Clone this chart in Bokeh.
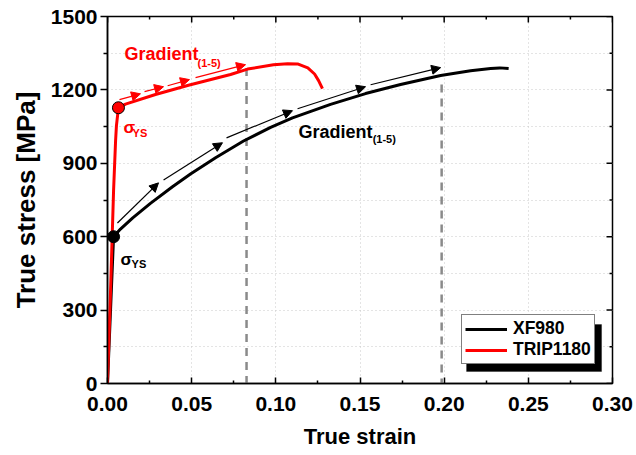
from bokeh.plotting import figure
from bokeh.models import (ColumnDataSource, Arrow, NormalHead, Legend, LegendItem,
                          BoxAnnotation, FixedTicker, PrintfTickFormatter, Range1d)
from bokeh.core.properties import value
from bokeh.embed import file_html
from bokeh.resources import INLINE

# ---------------- data ----------------
xf_strain = [0.0, 0.0036, 0.0077, 0.0150, 0.0255, 0.0386, 0.0493, 0.0642, 0.0808, 0.0969,
             0.1099, 0.1325, 0.1533, 0.1741, 0.1979, 0.2157, 0.2276, 0.2330, 0.2383]
xf_stress = [0, 600, 631, 677, 736, 804, 856, 923, 991, 1047, 1086, 1141, 1185, 1222, 1259,
             1278, 1287, 1290, 1287]

trip_strain = [0.0, 0.0018, 0.0036, 0.0048, 0.0053, 0.0065, 0.0107, 0.0285, 0.0481, 0.0731,
               0.0832, 0.0986, 0.1070, 0.1129, 0.1190, 0.1230, 0.1254, 0.1277]
trip_stress = [0, 377, 787, 992, 1053, 1127, 1142, 1181, 1219, 1263, 1285, 1303, 1307, 1306,
               1290, 1265, 1238, 1205]

ys_strain = [0.0036, 0.0065]
ys_stress = [600, 1127]
ys_color = ["black", "red"]

# gradient arrows (start / end)
xf_arr_x0 = [0.0059, 0.0333, 0.0707, 0.1129, 0.1563]
xf_arr_y0 = [656, 832, 1004, 1123, 1221]
xf_arr_x1 = [0.0303, 0.0683, 0.1099, 0.1533, 0.1979]
xf_arr_y1 = [820, 984, 1115, 1213, 1291]

trip_arr_x0 = [0.0071, 0.0220, 0.0357, 0.0523]
trip_arr_y0 = [1160, 1193, 1217, 1250]
trip_arr_x1 = [0.0196, 0.0333, 0.0487, 0.0820]
trip_arr_y1 = [1184, 1213, 1242, 1303]

# dashed markers of uniform elongation
dash_x = [0.0826, 0.1985]
dash_top = [1290, 1222]

x_ticks = [0.0, 0.05, 0.10, 0.15, 0.20, 0.25, 0.30]
x_minor = [0.025, 0.075, 0.125, 0.175, 0.225, 0.275]
y_ticks = [0, 300, 600, 900, 1200, 1500]
y_minor = [150, 450, 750, 1050, 1350]
y_grid = sorted(y_ticks + y_minor)

X_MAX, Y_MAX = 0.30, 1500
FONT = "Liberation Sans"

W, H = 636, 455
BL, BR, BT, BB = 107, 24, 16, 72

p = figure(width=W, height=H, output_backend="svg", toolbar_location=None,
           x_range=Range1d(0, X_MAX), y_range=Range1d(0, Y_MAX),
           min_border_left=BL, min_border_right=BR, min_border_top=BT, min_border_bottom=BB)
p.outline_line_color = "black"
p.outline_line_width = 1.5

# grid
p.xgrid.ticker = FixedTicker(ticks=x_ticks)
p.ygrid.ticker = FixedTicker(ticks=y_grid)
for g in (p.xgrid, p.ygrid):
    g.grid_line_color = "#c8c8c8"
    g.grid_line_dash = "1 3"
    g.grid_line_width = 1

# axes
p.xaxis.ticker = FixedTicker(ticks=x_ticks, minor_ticks=x_minor)
p.yaxis.ticker = FixedTicker(ticks=y_ticks, minor_ticks=y_minor)
p.xaxis.formatter = PrintfTickFormatter(format="%.2f")
p.xaxis.axis_label = "True strain"
p.yaxis.axis_label = "True stress [MPa]"
for ax in (p.xaxis[0], p.yaxis[0]):
    ax.axis_line_width = 1.5
    ax.major_tick_line_width = 1.5
    ax.minor_tick_line_width = 1.5
    ax.major_label_text_font = FONT
    ax.major_label_text_font_style = "bold"
    ax.major_label_text_font_size = "21px"
    ax.major_label_text_color = "black"
    ax.axis_label_text_font = FONT
    ax.axis_label_text_font_style = "bold"
    ax.axis_label_text_color = "black"
p.xaxis.axis_label_text_font_size = "22px"
p.yaxis.axis_label_text_font_size = "26px"
p.xaxis.major_tick_in = 6
p.xaxis.major_tick_out = 0
p.xaxis.minor_tick_in = 3
p.xaxis.minor_tick_out = 0
p.xaxis.major_label_standoff = 13
p.xaxis.axis_label_standoff = 10
p.yaxis.major_tick_in = 0
p.yaxis.major_tick_out = 7
p.yaxis.minor_tick_in = 0
p.yaxis.minor_tick_out = 4
p.yaxis.major_label_standoff = 3
p.yaxis.axis_label_standoff = 7

# inward ticks on the top and right frame edges (drawn as segments, no labels)
frame_w = W - BL - BR
frame_h = H - BT - BB
dx_per_px = X_MAX / frame_w
dy_per_px = Y_MAX / frame_h
n = len
p.segment(x0=x_ticks, x1=x_ticks, y0=[Y_MAX] * n(x_ticks), y1=[Y_MAX - 6 * dy_per_px] * n(x_ticks),
          line_color="black", line_width=1.5)
p.segment(x0=x_minor, x1=x_minor, y0=[Y_MAX] * n(x_minor), y1=[Y_MAX - 3 * dy_per_px] * n(x_minor),
          line_color="black", line_width=1.5)
p.segment(y0=y_ticks, y1=y_ticks, x0=[X_MAX] * n(y_ticks), x1=[X_MAX - 6 * dx_per_px] * n(y_ticks),
          line_color="black", line_width=1.5)
p.segment(y0=y_minor, y1=y_minor, x0=[X_MAX] * n(y_minor), x1=[X_MAX - 3 * dx_per_px] * n(y_minor),
          line_color="black", line_width=1.5)

# dashed vertical lines
p.segment(x0=dash_x, y0=dash_top, x1=dash_x, y1=[0] * len(dash_x),
          line_color="#8a8a8a", line_width=2.5, line_dash="8 6")

# curves
r_xf = p.line(xf_strain, xf_stress, line_color="black", line_width=3, line_join="round")
r_tr = p.line(trip_strain, trip_stress, line_color="red", line_width=3, line_join="round")

# arrows
xf_src = ColumnDataSource(dict(x0=xf_arr_x0, y0=xf_arr_y0, x1=xf_arr_x1, y1=xf_arr_y1))
p.add_layout(Arrow(end=NormalHead(size=9, fill_color="black", line_color="black", line_width=1),
                   x_start="x0", y_start="y0", x_end="x1", y_end="y1", source=xf_src,
                   line_color="black", line_width=1.2))
tr_src = ColumnDataSource(dict(x0=trip_arr_x0, y0=trip_arr_y0, x1=trip_arr_x1, y1=trip_arr_y1))
p.add_layout(Arrow(end=NormalHead(size=9, fill_color="red", line_color="red", line_width=1),
                   x_start="x0", y_start="y0", x_end="x1", y_end="y1", source=tr_src,
                   line_color="red", line_width=1.2))

# yield markers
p.scatter(ys_strain, ys_stress, size=12, fill_color=ys_color, line_color="black", line_width=1)

# annotations
def txt(x, y, s, color, size):
    p.text(x=[x], y=[y], text=[s], text_color=color, text_font=value(FONT),
           text_font_size=value(size), text_font_style="bold",
           text_align="left", text_baseline="alphabetic")

txt(0.0101, 1346, "Gradient", "red", "18px")
txt(0.0535, 1309, "(1-5)", "red", "11px")
txt(0.0095, 1045, "σ", "red", "17px")
txt(0.0149, 1024, "YS", "red", "11px")
txt(0.1135, 1028, "Gradient", "black", "18px")
txt(0.1575, 1000, "(1-5)", "black", "11px")
txt(0.0077, 508, "σ", "black", "17px")
txt(0.0143, 487, "YS", "black", "11px")

# legend shadow
p.add_layout(BoxAnnotation(left=0.2133, right=0.2935, bottom=49, top=241,
                           fill_color="black", fill_alpha=1, line_color="black", level="annotation"))

legend = Legend(items=[LegendItem(label="XF980", renderers=[r_xf]),
                       LegendItem(label="TRIP1180", renderers=[r_tr])],
                location=(354, 19), label_text_font=FONT, label_text_font_style="bold",
                label_text_font_size="17.5px", label_text_color="black",
                glyph_width=42, glyph_height=20, label_height=20, label_standoff=6,
                padding=3, spacing=0, margin=0,
                border_line_color="black", border_line_width=1,
                background_fill_color="white", background_fill_alpha=1)
p.add_layout(legend)

open("out.html", "w").write(file_html(p, INLINE))
